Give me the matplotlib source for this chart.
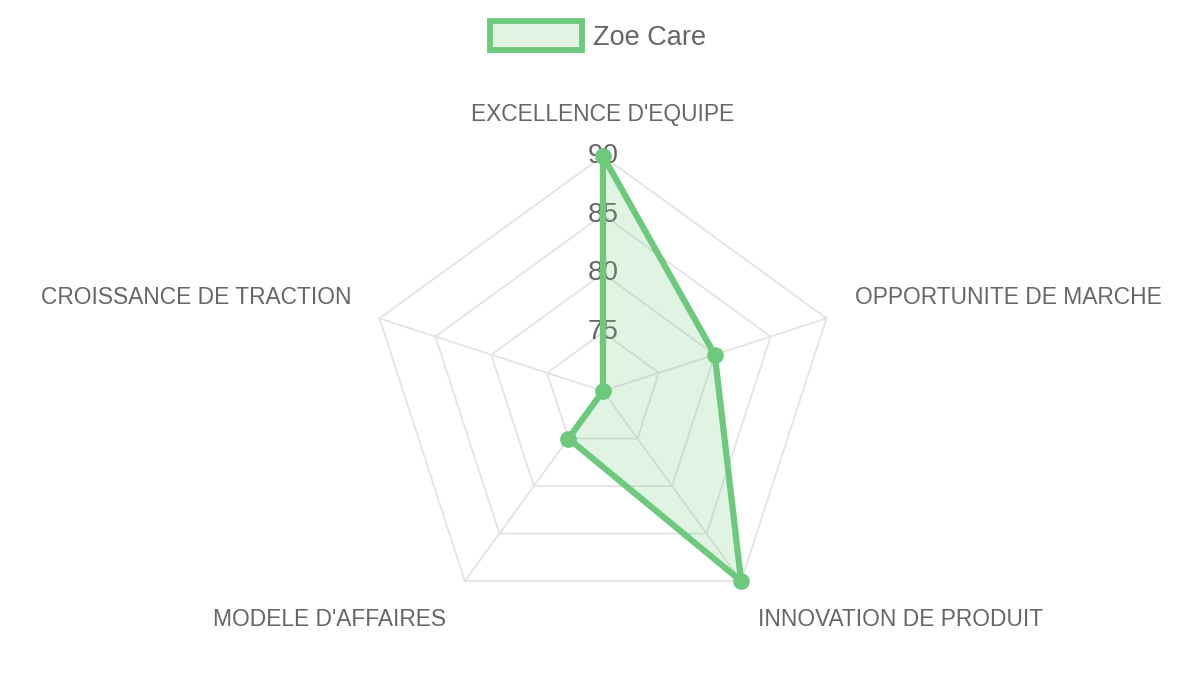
import numpy as np
import matplotlib
matplotlib.use("Agg")
import matplotlib.pyplot as plt
from matplotlib.patches import Patch

plt.rcParams['font.family'] = ['Liberation Sans', 'DejaVu Sans']

categories = ["EXCELLENCE D'EQUIPE", "OPPORTUNITE DE MARCHE", "INNOVATION DE PRODUIT",
              "MODELE D'AFFAIRES", "CROISSANCE DE TRACTION"]
values = [90, 80, 90, 75, 70]
series_name = "Zoe Care"
tick_values = [75, 80, 85, 90]
tick_labels = ["75", "80", "85", "90"]
r_min, r_max = 70, 90

line_color = "#6DC97C"
fill_color = (109/255, 201/255, 124/255, 0.2)
grid_color = "#e3e3e3"
text_color = "#666666"

W, H = 1200, 675
fig = plt.figure(figsize=(W/100, H/100), dpi=100)
cx, cy, R = 603, 391, 235
ax = fig.add_axes([(cx-R)/W, (H-cy-R)/H, 2*R/W, 2*R/H], projection='polar')
ax.set_theta_offset(np.pi/2)
ax.set_theta_direction(-1)
ax.set_ylim(r_min, r_max)
ax.grid(False)
ax.spines['polar'].set_visible(False)
ax.set_xticks([])
ax.set_yticks([])
ax.patch.set_alpha(0)

n = len(categories)
angles = np.arange(n) * 2*np.pi/n
closed = np.append(angles, angles[0])

# pentagon rings
for tv in tick_values:
    ax.plot(closed, [tv]*(n+1), color=grid_color, lw=1.3, zorder=1, clip_on=False)
# spokes
for a in angles:
    ax.plot([a, a], [r_min, r_max], color=grid_color, lw=1.3, zorder=1, clip_on=False)

# tick labels
for tv, tl in zip(tick_values, tick_labels):
    ax.text(0, tv, tl, ha='center', va='center', fontsize=20, color=text_color, zorder=2)

# data
vals = np.append(values, values[0])
ax.fill(closed, vals, color=fill_color, zorder=3, clip_on=False)
ax.plot(closed, vals, color=line_color, lw=4.5, zorder=4, clip_on=False, solid_joinstyle='miter')
ax.plot(angles, values, 'o', color=line_color, ms=11, zorder=5, clip_on=False)

# category labels
offsets = [(0, 41, 'center'), (29, 21, 'left'), (17, -38, 'left'), (-19, -38, 'right'), (-28, 21, 'right')]
for a, lab, (dx, dy, ha) in zip(angles, categories, offsets):
    ax.annotate(lab, xy=(a, r_max), xytext=(dx, dy), textcoords='offset pixels',
                ha=ha, va='center', fontsize=16.4, color=text_color, annotation_clip=False)

# legend
handle = Patch(facecolor=fill_color, edgecolor=line_color, linewidth=4.2, label=series_name)
fig.legend(handles=[handle], loc='center', bbox_to_anchor=(598/W, 1-36/H), frameon=False,
           fontsize=19.5, labelcolor=text_color, handlelength=3.4, handleheight=1.25,
           handletextpad=0.4, borderpad=0)

fig.savefig("out.png", dpi=100)
